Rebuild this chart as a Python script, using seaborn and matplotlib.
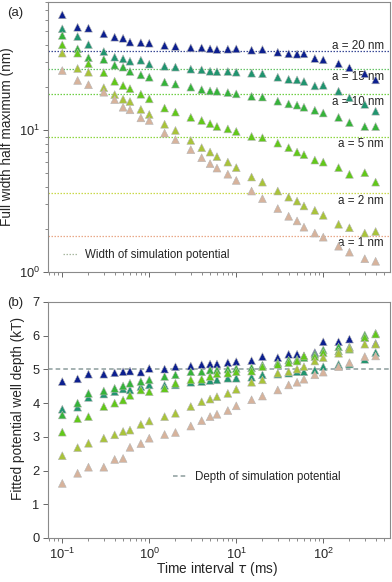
import matplotlib
matplotlib.use("Agg")
import matplotlib.pyplot as plt
import pandas as pd
import seaborn as sns
from matplotlib.lines import Line2D
from matplotlib.ticker import NullFormatter

# Data
tau_ms = [0.1, 0.15, 0.2, 0.3, 0.4, 0.5, 0.6, 0.8, 1, 1.5, 2, 3, 4, 5, 6, 8, 10,
          15, 20, 30, 40, 50, 60, 80, 100, 150, 200, 300, 400]

size_nm = [20, 15, 10, 5, 2, 1]
size_labels = ["a = 20 nm", "a = 15 nm", "a = 10 nm", "a = 5 nm", "a = 2 nm", "a = 1 nm"]

# (a) full width half maximum (nm)
fwhm_a20 = [65.0, 53.1, 52.3, 47.7, 45.2, 44.4, 41.7, 41.3, 41.0, 39.5, 38.9, 38.0, 38.0, 37.4, 37.0,
            37.2, 37.4, 36.6, 37.0, 35.4, 34.5, 34.3, 34.5, 32.0, 31.3, 29.4, 27.5, 25.0, 22.6]
fwhm_a15 = [51.8, 45.7, 40.1, 35.8, 32.7, 31.8, 30.6, 31.1, 29.2, 28.2, 27.8, 26.9, 26.6, 26.0, 25.8,
            25.9, 25.6, 25.2, 25.0, 23.6, 22.8, 22.6, 22.0, 20.5, 20.7, 18.8, 16.9, 15.2, 13.6]
fwhm_a10 = [46.5, 37.4, 32.4, 31.5, 28.7, 27.8, 25.9, 24.5, 23.6, 21.8, 21.1, 20.1, 19.3, 18.9, 18.8,
            18.4, 18.0, 17.3, 17.1, 16.0, 15.3, 15.0, 14.5, 13.8, 13.2, 12.3, 11.3, 10.6, 10.6]
fwhm_a5 = [39.9, 34.9, 29.4, 25.4, 22.1, 20.6, 19.6, 17.9, 16.6, 14.3, 13.4, 12.3, 11.7, 11.1, 10.6,
           10.2, 9.79, 9.03, 8.84, 8.10, 7.52, 7.00, 6.71, 6.15, 5.95, 5.44, 4.88, 5.01, 4.30]
fwhm_a2 = [34.9, 27.2, 25.6, 19.9, 17.8, 16.5, 15.9, 14.0, 12.9, 11.0, 9.95, 8.46, 7.52, 7.00, 6.50,
           5.95, 5.44, 4.67, 4.30, 3.72, 3.37, 3.16, 2.92, 2.72, 2.51, 2.17, 2.05, 1.88, 1.93]
fwhm_a1 = [26.3, 22.4, 20.9, 18.5, 16.4, 14.5, 13.9, 12.2, 11.7, 9.53, 8.56, 7.28, 6.39, 5.80, 5.40,
           4.89, 4.42, 3.72, 3.29, 2.80, 2.47, 2.29, 2.07, 1.88, 1.76, 1.52, 1.38, 1.24, 1.19]

# width of the simulation potential for each a (nm)
sim_width = [36.0, 27.0, 18.0, 9.0, 3.6, 1.8]

# (b) fitted potential well depth (kT)
depth_a20 = [4.64, 4.72, 4.86, 4.86, 4.90, 4.93, 4.95, 4.92, 5.03, 5.01, 5.08, 5.10, 5.14, 5.16, 5.16,
             5.20, 5.23, 5.26, 5.38, 5.35, 5.45, 5.45, 5.40, 5.50, 5.82, 5.82, 5.90, 5.95, 5.77]
depth_a15 = [3.82, 3.88, 4.17, 4.27, 4.34, 4.42, 4.39, 4.49, 4.54, 4.53, 4.54, 4.62, 4.64, 4.67, 4.69,
             4.74, 4.74, 4.77, 4.84, 4.86, 4.89, 4.93, 4.93, 4.98, 5.08, 5.15, 5.16, 5.30, 5.50]
depth_a10 = [3.65, 4.00, 4.29, 4.36, 4.44, 4.51, 4.59, 4.64, 4.69, 4.79, 4.84, 4.93, 4.93, 4.98, 4.98,
             5.01, 5.03, 5.05, 5.13, 5.20, 5.28, 5.30, 5.35, 5.45, 5.58, 5.67, 5.67, 6.02, 6.07]
depth_a5 = [3.14, 3.54, 3.60, 3.90, 4.00, 4.09, 4.23, 4.39, 4.34, 4.44, 4.59, 4.69, 4.71, 4.79, 4.87,
            4.89, 4.93, 4.95, 5.08, 5.15, 5.20, 5.25, 5.40, 5.38, 5.50, 5.55, 5.60, 5.95, 6.05]
depth_a2 = [2.44, 2.68, 2.81, 2.96, 3.06, 3.16, 3.20, 3.37, 3.47, 3.60, 3.70, 3.90, 4.04, 4.12, 4.19,
            4.29, 4.41, 4.62, 4.69, 4.89, 4.93, 5.01, 5.08, 5.25, 5.35, 5.48, 5.63, 5.75, 5.75]
depth_a1 = [1.62, 1.92, 2.10, 2.10, 2.33, 2.36, 2.69, 2.80, 2.96, 3.07, 3.13, 3.32, 3.48, 3.60, 3.67,
            3.78, 3.92, 4.10, 4.21, 4.39, 4.54, 4.62, 4.71, 4.84, 4.92, 5.08, 5.20, 5.38, 5.40]

sim_depth = 5.0

marker_colors = ["#0c1f8f", "#20946f", "#35b33a", "#62c81a", "#a9c33a", "#d7b39c"]
line_colors = ["#3a4a96", "#66c466", "#6fcf45", "#8fd640", "#c9d84a", "#e9a888"]

fwhm_series = [fwhm_a20, fwhm_a15, fwhm_a10, fwhm_a5, fwhm_a2, fwhm_a1]
depth_series = [depth_a20, depth_a15, depth_a10, depth_a5, depth_a2, depth_a1]

rows = []
for label, fw, dp in zip(size_labels, fwhm_series, depth_series):
    for t, f, d in zip(tau_ms, fw, dp):
        rows.append({"tau": t, "fwhm": f, "depth": d, "size": label})
df = pd.DataFrame(rows)
palette = dict(zip(size_labels, marker_colors))

sns.set_theme(style="ticks")
plt.rcParams["font.family"] = ["Liberation Sans", "DejaVu Sans"]
plt.rcParams["mathtext.fontset"] = "dejavusans"

fig = plt.figure(figsize=(3.92, 5.82), dpi=100)
ax_a = fig.add_axes([48 / 392, 310 / 582, 342 / 392, 270 / 582])
ax_b = fig.add_axes([48 / 392, 44 / 582, 342 / 392, 236 / 582])

for ax in (ax_a, ax_b):
    ax.set_xscale("log")
    ax.set_xlim(0.0685, 585)
    for sp in ax.spines.values():
        sp.set_color("#8a8a8a")
        sp.set_linewidth(0.8)
    ax.tick_params(which="major", direction="out", length=3.5, width=0.7,
                   color="#666666", labelsize=9.3, pad=2.5)
    ax.tick_params(which="minor", direction="out", length=2, width=0.6, color="#777777")

# Panel (a)
ax_a.set_yscale("log")
ax_a.set_ylim(1, 80)
for w, c in zip(sim_width, line_colors):
    ax_a.axhline(w, color=c, ls=(0, (1.2, 1.2)), lw=0.9, zorder=1)
sns.scatterplot(data=df, x="tau", y="fwhm", hue="size", hue_order=size_labels,
                palette=palette, marker="^", s=32, edgecolor="#b5b5b5",
                linewidth=0.4, legend=False, ax=ax_a, zorder=3)
for label, w, off in zip(size_labels, sim_width, [4, -5.5, -5.5, -5.5, -5.5, -5.5]):
    ax_a.annotate(label, xy=(0.982, w), xycoords=("axes fraction", "data"),
                  xytext=(0, off), textcoords="offset points", ha="right",
                  va="center", fontsize=8.4, zorder=2)
ax_a.yaxis.set_minor_formatter(NullFormatter())
ax_a.tick_params(labelbottom=False)
ax_a.set_xlabel("")
ax_a.set_ylabel("Full width half maximum (nm)", fontsize=9.8)
ax_a.yaxis.set_label_coords(-0.1, 0.5)
handle_a = Line2D([], [], color="#a8b8a0", ls=(0, (1.2, 1.2)), lw=0.9)
ax_a.legend([handle_a], ["Width of simulation potential"], loc="center left",
            bbox_to_anchor=(0.044, 0.063), frameon=False, fontsize=8.3,
            handlelength=1.3, handletextpad=0.6, borderpad=0, borderaxespad=0)
fig.text(7 / 392, 1 - 13 / 582, "(a)", fontsize=9.5, va="center", ha="left")

# Panel (b)
ax_b.set_ylim(0, 7)
ax_b.set_yticks(range(0, 8))
ax_b.axhline(sim_depth, color="#8c9c9c", ls=(0, (3, 2)), lw=1.1, zorder=1)
sns.scatterplot(data=df, x="tau", y="depth", hue="size", hue_order=size_labels,
                palette=palette, marker="^", s=32, edgecolor="#b5b5b5",
                linewidth=0.4, legend=False, ax=ax_b, zorder=3)
ax_b.set_xlabel("Time interval $\\tau$ (ms)", fontsize=9.8)
ax_b.xaxis.set_label_coords(0.494, -0.095)
ax_b.set_ylabel("Fitted potential well depth (kT)", fontsize=9.8)
ax_b.yaxis.set_label_coords(-0.067, 0.547)
handle_b = Line2D([], [], color="#8c9c9c", ls=(0, (3, 2)), lw=1.1)
ax_b.legend([handle_b], ["Depth of simulation potential"], loc="center left",
            bbox_to_anchor=(0.3655, 0.26), frameon=False, fontsize=8.3,
            handlelength=1.3, handletextpad=0.6, borderpad=0, borderaxespad=0)
fig.text(7 / 392, 1 - 303 / 582, "(b)", fontsize=9.5, va="center", ha="left")

fig.savefig("out.png", dpi=100)
